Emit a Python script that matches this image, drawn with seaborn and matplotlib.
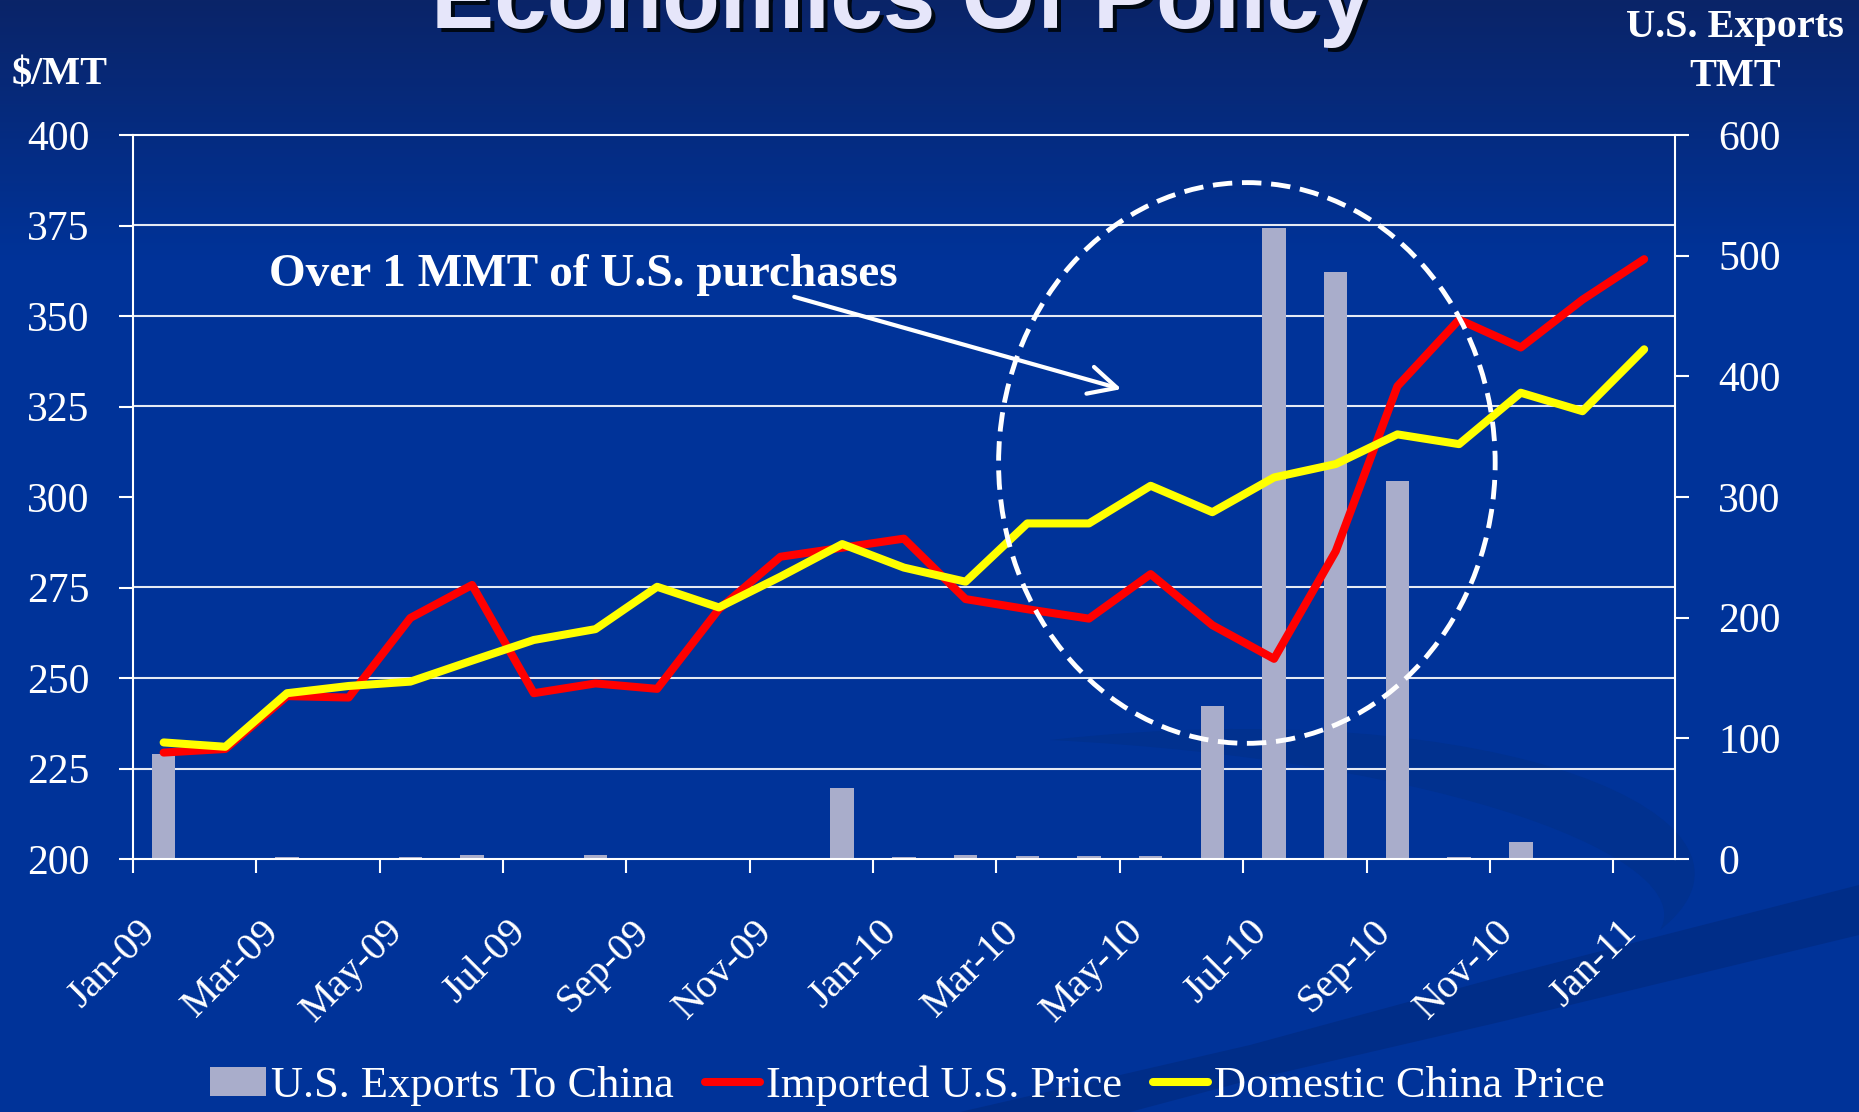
import numpy as np
import pandas as pd
import matplotlib
matplotlib.use("Agg")
import matplotlib.pyplot as plt
import matplotlib.transforms as mtransforms
from matplotlib.patches import Ellipse, Polygon, PathPatch
from matplotlib.path import Path
import seaborn as sns

# data
months = ["Jan-09", "Feb-09", "Mar-09", "Apr-09", "May-09", "Jun-09", "Jul-09",
          "Aug-09", "Sep-09", "Oct-09", "Nov-09", "Dec-09", "Jan-10", "Feb-10",
          "Mar-10", "Apr-10", "May-10", "Jun-10", "Jul-10", "Aug-10", "Sep-10",
          "Oct-10", "Nov-10", "Dec-10", "Jan-11"]
exports_tmt = [87, 0, 2, 0, 2, 3, 0, 3, 0, 0, 0, 59, 2, 3, 2.5, 2.5, 2.5,
               126.5, 523, 486.5, 313, 2, 13.8, 0, 0]
imported_price = [229.4, 230.4, 245, 244.6, 266.6, 275.7, 245.8, 248.5, 247,
                  269, 283.5, 286, 288.5, 271.8, 269, 266.4, 278.7, 264.6,
                  255.3, 285, 330.6, 349, 341.3, 354.5, 365.7]
domestic_price = [232.2, 231, 245.8, 247.8, 249, 254.8, 260.5, 263.5, 275.2,
                  269.5, 278, 287, 280.5, 276.6, 292.7, 292.7, 303.1, 295.8,
                  305.4, 309.1, 317.3, 314.6, 328.8, 323.7, 340.8]
legend_labels = ["U.S. Exports To China", "Imported U.S. Price", "Domestic China Price"]

df = pd.DataFrame({
    "month": months,
    "idx": np.arange(len(months)),
    "exports": exports_tmt,
    "imported": imported_price,
    "domestic": domestic_price,
})

BG = "#003399"
W, H = 1859, 1112
plt.rcParams["font.family"] = ["Liberation Serif", "DejaVu Serif"]

fig = plt.figure(figsize=(W / 100, H / 100), dpi=100)
fig.patch.set_facecolor(BG)

# slide background: gradient + faint swooshes
bg = fig.add_axes([0, 0, 1, 1], zorder=-10)
top = np.array([10, 36, 104]) / 255
base = np.array([0, 51, 153]) / 255
t = np.clip(np.arange(H) / 260.0, 0, 1)[:, None]
grad = (top * (1 - t) + base * t)[:, None, :]
bg.imshow(grad, extent=[0, W, H, 0], aspect="auto")
bg.add_patch(Polygon([(960, 1112), (1250, 1045), (1500, 977), (1859, 885),
                      (1859, 935), (1500, 1022), (1250, 1080), (1130, 1112)],
                     closed=True, facecolor="#002D88", edgecolor="none"))
verts = [(1050, 740), (1500, 690), (1800, 820), (1660, 930),
         (1700, 860), (1450, 760), (1050, 740), (1050, 740)]
codes = [Path.MOVETO, Path.CURVE4, Path.CURVE4, Path.CURVE4,
         Path.CURVE4, Path.CURVE4, Path.CURVE4, Path.CLOSEPOLY]
bg.add_patch(PathPatch(Path(verts, codes), facecolor="#01318F", edgecolor="none"))
bg.set_xlim(0, W)
bg.set_ylim(H, 0)
bg.axis("off")

# chart axes
ax = fig.add_axes([132.8 / W, (H - 859) / H, (1675 - 132.8) / W, (859 - 135) / H])
ax2 = ax.twinx()

sns.barplot(data=df, x="idx", y="exports", ax=ax2, native_scale=True, orient="x",
            color="#A9ADCB", saturation=1, width=0.38, edgecolor="none", errorbar=None)
sns.lineplot(data=df, x="idx", y="imported", ax=ax, color="#FF0000",
             linewidth=5.8, solid_capstyle="round")
sns.lineplot(data=df, x="idx", y="domestic", ax=ax, color="#FFFF00",
             linewidth=5.8, solid_capstyle="round")

ax.set_zorder(ax2.get_zorder() + 1)
ax.patch.set_visible(False)
ax2.patch.set_visible(False)

ax.set_xlim(-0.5, 24.5)
ax.set_ylim(200, 400)
ax2.set_ylim(0, 600)
for a in (ax, ax2):
    a.set_xlabel("")
    a.set_ylabel("")

# left axis
ax.set_yticks(np.arange(200, 401, 25))
ax.tick_params(axis="y", direction="out", length=10, width=1.5, color="white",
               labelcolor="white", labelsize=30, pad=21)
# right axis, gridlines drawn here so they sit behind the bars
ax2.set_yticks(np.arange(0, 601, 100))
ax2.set_yticks(np.arange(0, 601, 75), minor=True)
ax2.tick_params(axis="y", which="major", direction="out", length=10, width=1.5,
                color="white", labelcolor="white", labelsize=30, pad=21)
ax2.tick_params(axis="y", which="minor", length=0)
ax.grid(False)
ax2.grid(False)
ax2.yaxis.grid(True, which="minor", color="white", linewidth=1.5, alpha=0.9)
ax2.set_axisbelow(True)

# x axis: marks between every other month, labels on even months
ax.set_xticks(np.arange(-0.5, 24.5, 2))
ax.set_xticklabels([])
ax.set_xticks(np.arange(0, 25, 2), minor=True)
ax.set_xticklabels(months[::2], minor=True, rotation=45, ha="right", va="top")
ax.tick_params(axis="x", which="major", direction="out", length=10, width=1.5, color="white")
ax.tick_params(axis="x", which="minor", length=0, pad=39, labelsize=29, labelcolor="white")

for name, sp in ax.spines.items():
    sp.set_visible(name in ("left", "bottom", "top"))
    sp.set_color("white")
    sp.set_linewidth(1.5)
for name, sp in ax2.spines.items():
    sp.set_visible(name == "right")
    sp.set_color("white")
    sp.set_linewidth(1.5)

# callout
ax.add_patch(Ellipse((17.56, 309.4), 8.05, 154.9, fill=False, edgecolor="white",
                     linewidth=3.5, linestyle=(0, (4, 2)), zorder=5))
ax.annotate("", xy=(15.57, 329.6), xytext=(10.18, 355.5),
            arrowprops=dict(arrowstyle="->,head_length=0.5,head_width=0.25",
                            color="white", lw=3, mutation_scale=40))
ax.text(1.71, 358.3, "Over 1 MMT of U.S. purchases", fontsize=34,
        fontweight="bold", color="white", va="baseline")

# legend
handles = [ax2.patches[0], ax.lines[0], ax.lines[1]]
fig.legend(handles, legend_labels, loc="center", bbox_to_anchor=(0.488, 0.0234),
           ncol=3, frameon=False, fontsize=32, labelcolor="white",
           handlelength=1.25, handleheight=0.6, handletextpad=0.12, columnspacing=0.7)

# axis titles and slide title
fig.text(12 / W, 1 - 75 / H, "$/MT", ha="left", va="center", fontsize=29,
         fontweight="bold", color="white")
fig.text(1735 / W, 1 - 27 / H, "U.S. Exports", ha="center", va="center",
         fontsize=29, fontweight="bold", color="white")
fig.text(1735 / W, 1 - 76 / H, "TMT", ha="center", va="center",
         fontsize=29, fontweight="bold", color="white")

shadow = mtransforms.offset_copy(fig.transFigure, fig=fig, x=4, y=-4, units="dots")
for tr, col in ((shadow, "#000814"), (fig.transFigure, "#E6E6FA")):
    fig.text(0.485, 1 - 28 / H, "Economics Of Policy", transform=tr, ha="center",
             va="baseline", fontsize=68, fontweight="bold", color=col,
             family=["Liberation Sans", "DejaVu Sans"])

fig.savefig("out.png", dpi=100, facecolor=BG)
